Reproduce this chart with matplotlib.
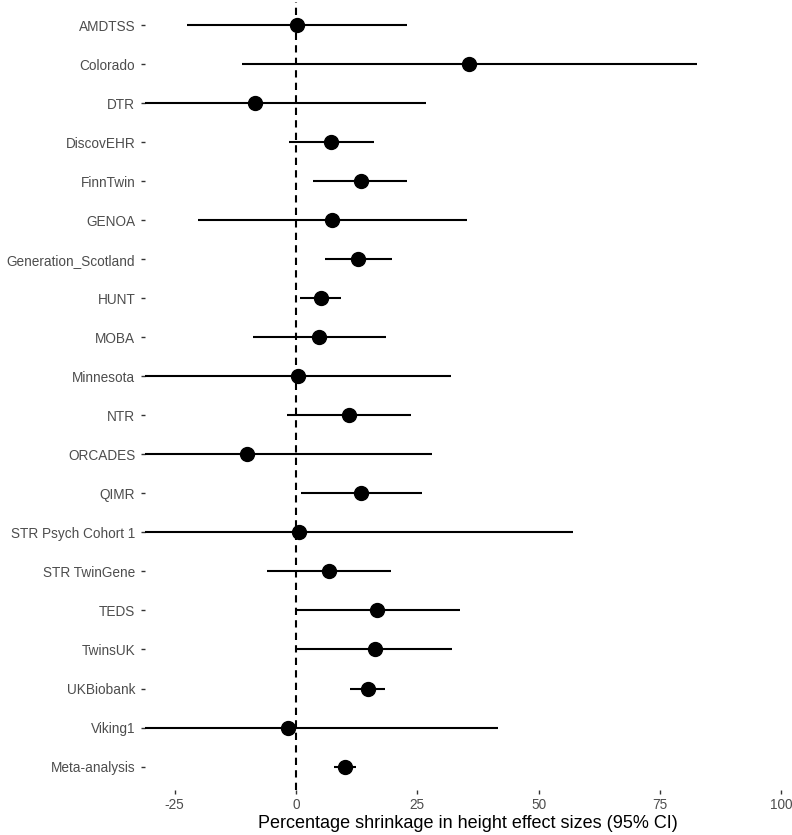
import numpy as np
import matplotlib
matplotlib.use('Agg')
import matplotlib.pyplot as plt

plt.rcParams['font.family'] = ['Liberation Sans', 'DejaVu Sans']

# study names, top to bottom
studies = ['AMDTSS', 'Colorado', 'DTR', 'DiscovEHR', 'FinnTwin', 'GENOA',
           'Generation_Scotland', 'HUNT', 'MOBA', 'Minnesota', 'NTR', 'ORCADES',
           'QIMR', 'STR Psych Cohort 1', 'STR TwinGene', 'TEDS', 'TwinsUK',
           'UKBiobank', 'Viking1', 'Meta-analysis']
# percentage shrinkage estimate and 95% CI
est = [0.2, 35.7, -8.4, 7.2, 13.4, 7.4, 12.8, 5.1, 4.8, 0.5, 10.9, -10.0,
       13.4, 0.6, 6.9, 16.8, 16.3, 14.8, -1.6, 10.1]
lower = [-22.5, -11.1, -43.6, -1.4, 3.5, -20.2, 6.0, 0.8, -8.8, -32.0, -1.9, -48.0,
         1.0, -56.0, -5.9, -0.1, 0.3, 11.1, -45.0, 7.9]
upper = [22.9, 82.6, 26.7, 16.1, 22.9, 35.2, 19.8, 9.3, 18.5, 31.9, 23.8, 28.1,
         26.0, 57.1, 19.6, 33.9, 32.2, 18.3, 41.6, 12.3]

ypos = np.arange(1, len(studies) + 1)

fig = plt.figure(figsize=(7.92, 8.35), dpi=100)
ax = fig.add_axes([145 / 792, 1 - 790 / 835, (790 - 145) / 792, (790 - 1.6) / 835])

ax.axvline(0, color='black', linestyle=(0, (3.5, 2.5)), linewidth=1.5, zorder=1)
ax.hlines(ypos, lower, upper, color='black', linewidth=1.5, zorder=2)
ax.plot(est, ypos, 'o', color='black', markersize=10, zorder=3)

ax.set_xlim(-31.1, 101.8)
ax.set_ylim(len(studies) + 0.6, 0.4)
ax.set_xticks([-25, 0, 25, 50, 75, 100])
ax.set_xticklabels(['-25', '0', '25', '50', '75', '100'])
ax.set_yticks(ypos)
ax.set_yticklabels(studies)

for s in ax.spines.values():
    s.set_visible(False)
ax.tick_params(axis='both', colors='#333333', labelcolor='#4D4D4D', labelsize=9.8,
               length=3, width=1)
ax.tick_params(axis='y', pad=4)
ax.tick_params(axis='x', pad=3)
ax.set_xlabel('Percentage shrinkage in height effect sizes (95% CI)', fontsize=13,
              color='black', labelpad=2)

fig.savefig('out.png', dpi=100)
